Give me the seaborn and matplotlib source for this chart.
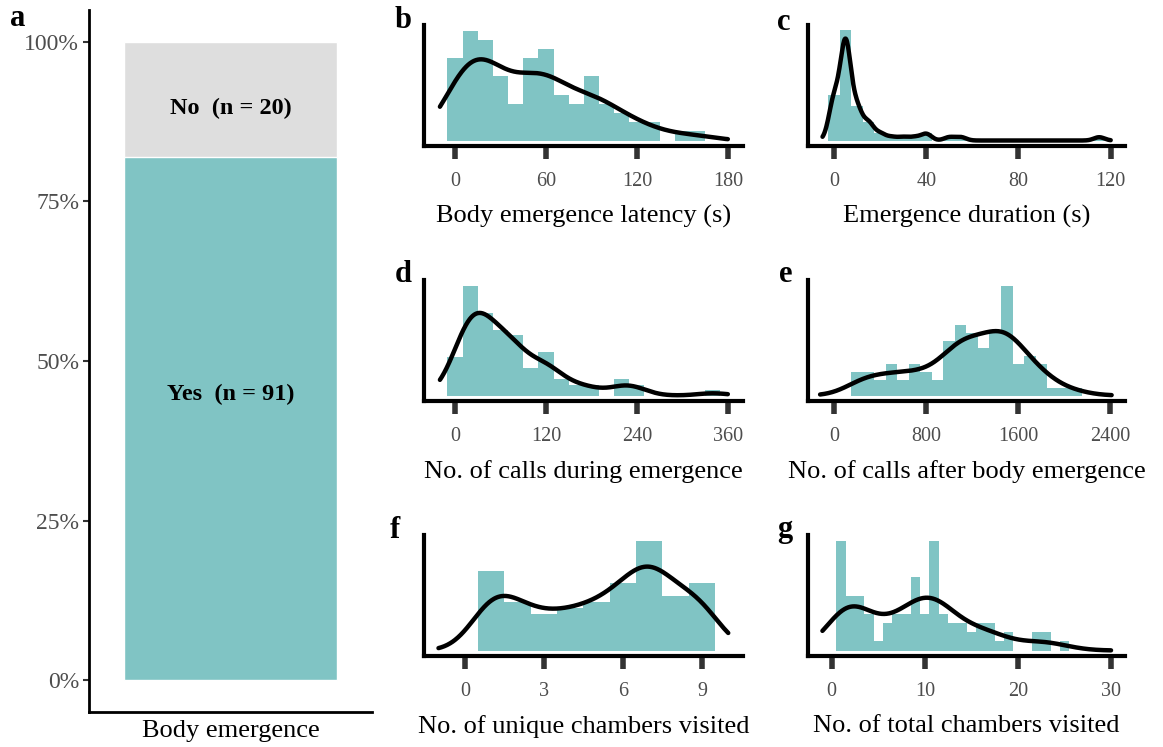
import numpy as np
import pandas as pd
import matplotlib
matplotlib.use("Agg")
import matplotlib.pyplot as plt
import seaborn as sns

# ---------------- data ----------------
# panel a: body emergence
emerge_cats = ["Yes", "No"]
emerge_n = [91, 20]

# panel b: body emergence latency (s), bin width 10
latency_centers = [0, 10, 20, 30, 40, 50, 60, 70, 80, 90, 100, 110, 120, 130, 140, 150, 160]
latency_counts = [9, 12, 11, 7, 4, 9, 10, 5, 4, 7, 4, 3, 2, 2, 0, 1, 1]

# panel c: emergence duration (s), bin width 5
duration_centers = [0, 5, 10, 15, 20, 25, 30, 35, 40, 45, 50, 55, 60, 65, 70, 75, 80, 85, 90, 95, 100, 105, 110, 115]
duration_counts = [12, 29, 9, 5, 2, 1, 1, 1, 2, 0, 1, 1, 0, 0, 0, 0, 0, 0, 0, 0, 0, 0, 0, 1]

# panel d: no. of calls during emergence, bin width 20
during_centers = [0, 20, 40, 60, 80, 100, 120, 140, 160, 180, 200, 220, 240, 260, 280, 300, 320, 340]
during_counts = [7, 20, 15, 12, 11, 5, 8, 3, 2, 2, 0, 3, 2, 0, 0, 0, 0, 1]

# panel e: no. of calls after body emergence, bin width 100
after_centers = [200, 300, 400, 500, 600, 700, 800, 900, 1000, 1100, 1200, 1300, 1400, 1500,
                 1600, 1700, 1800, 1900, 2000, 2100]
after_counts = [3, 3, 2, 4, 2, 4, 3, 2, 7, 9, 8, 6, 8, 14, 4, 5, 4, 1, 1, 1]

# panel f: no. of unique chambers visited, bin width 1
unique_centers = [1, 2, 3, 4, 5, 6, 7, 8, 9]
unique_counts = [13, 8, 6, 7, 8, 11, 18, 9, 11]

# panel g: no. of total chambers visited, bin width 1
total_centers = [1, 2, 3, 4, 5, 6, 7, 8, 9, 10, 11, 12, 13, 14, 15, 16, 17, 18, 19, 20, 21, 22, 23, 24, 25]
total_counts = [12, 6, 6, 4, 1, 3, 4, 4, 8, 4, 12, 4, 3, 3, 2, 3, 3, 1, 2, 0, 0, 2, 2, 0, 1]

# axis settings
panel_letters = ["b", "c", "d", "e", "f", "g"]
x_titles = ["Body emergence latency (s)", "Emergence duration (s)",
            "No. of calls during emergence", "No. of calls after body emergence",
            "No. of unique chambers visited", "No. of total chambers visited"]
x_ticks = [[0, 60, 120, 180], [0, 40, 80, 120], [0, 120, 240, 360],
           [0, 800, 1600, 2400], [0, 3, 6, 9], [0, 10, 20, 30]]
bin_widths = [10, 5, 20, 100, 1, 1]
kde_ranges = [(-10, 180), (-5, 120), (-20, 360), (-120, 2410), (-1, 10), (-1, 30)]
x_limits = [(-20.5, 190), (-11.3, 126.2), (-41, 380), (-225, 2526), (-1.55, 10.56), (-2.55, 31.5)]
kde_bandwidths = [15.0, 2.3, 20.0, 160.0, 0.85, 2.2]   # in data units

TEAL = "#80C4C4"
GRAY = "#DEDEDE"

# ---------------- style ----------------
sns.set_style("white")
plt.rcParams["font.family"] = ["Liberation Serif", "DejaVu Serif"]
plt.rcParams["text.color"] = "black"
plt.rcParams["axes.labelcolor"] = "black"

W, H = 1163, 747
fig = plt.figure(figsize=(W / 100, H / 100), dpi=100)


def px_axes(left, right, top, bottom):
    return fig.add_axes([left / W, 1 - bottom / H, (right - left) / W, (bottom - top) / H])


# ---------------- panel a ----------------
axa = px_axes(89, 372, 10, 712)
total = sum(emerge_n)
fracs = [n / total for n in emerge_n]
dfa = pd.DataFrame({"grp": ["Body emergence"], "all": [fracs[0] + fracs[1]], "yes": [fracs[0]]})
sns.barplot(data=dfa, x="grp", y="all", color=GRAY, width=0.9, saturation=1, ax=axa)
sns.barplot(data=dfa, x="grp", y="yes", color=TEAL, width=0.9, saturation=1, ax=axa)
axa.set_xlim(-0.6, 0.6)
axa.set_ylim(-0.05, 1.05)
axa.set_yticks([0, 0.25, 0.5, 0.75, 1.0])
axa.set_yticklabels(["0%", "25%", "50%", "75%", "100%"])
axa.set_xticks([])
axa.set_xlabel("Body emergence", fontsize=19, labelpad=6)
axa.set_ylabel("")
axa.tick_params(axis="y", length=4, width=1.5, color="#333333", labelcolor="#4D4D4D",
                labelsize=17, pad=3, left=True)
sns.despine(ax=axa)
for s in ["left", "bottom"]:
    axa.spines[s].set_linewidth(2)
    axa.spines[s].set_color("black")
axa.text(0, fracs[0] + fracs[1] * 0.42, f"No  (n = {emerge_n[1]})", ha="center", va="center",
         fontsize=17.5, fontweight="bold")
axa.text(0, fracs[0] * 0.545, f"Yes  (n = {emerge_n[0]})", ha="center", va="center",
         fontsize=17.5, fontweight="bold")
fig.text(10 / W, 1 - 18 / H, "a", fontsize=22, fontweight="bold", va="center", ha="left")

# ---------------- histogram panels ----------------
centers_list = [latency_centers, duration_centers, during_centers, after_centers, unique_centers, total_centers]
counts_list = [latency_counts, duration_counts, during_counts, after_counts, unique_counts, total_counts]
boxes = [(424, 743, 25, 146), (808, 1125, 25, 146),
         (424, 743, 280, 401), (808, 1125, 280, 401),
         (424, 743, 535, 656), (808, 1125, 535, 656)]
letter_pos = [(395, 20), (777, 22), (395, 275), (779, 275), (390, 530), (777, 530)]

for i in range(6):
    ax = px_axes(*boxes[i])
    obs = np.repeat(centers_list[i], counts_list[i]).astype(float)
    df = pd.DataFrame({"x": obs})
    bw = bin_widths[i]
    lo = min(centers_list[i]) - bw / 2
    hi = max(centers_list[i]) + bw / 2
    sns.histplot(data=df, x="x", binwidth=bw, binrange=(lo, hi), stat="density",
                 color=TEAL, alpha=1, edgecolor=TEAL, linewidth=0, ax=ax)
    sns.kdeplot(data=df, x="x", bw_method=kde_bandwidths[i] / obs.std(ddof=1), clip=kde_ranges[i],
                cut=30, gridsize=600, color="black", lw=3.2, ax=ax)
    ymax = max([p.get_height() for p in ax.patches] + [ax.lines[0].get_ydata().max()])
    ax.set_ylim(-0.05 * ymax, 1.05 * ymax)
    ax.set_xlim(*x_limits[i])
    ax.set_xticks(x_ticks[i])
    ax.set_yticks([])
    ax.set_ylabel("")
    ax.set_xlabel(x_titles[i], fontsize=19, labelpad=10)
    ax.tick_params(axis="x", length=9, width=4, color="#333333", labelcolor="#4D4D4D",
                   labelsize=14.5, pad=10, bottom=True)
    sns.despine(ax=ax)
    for s in ["left", "bottom"]:
        ax.spines[s].set_linewidth(3)
        ax.spines[s].set_color("black")
    fig.text(letter_pos[i][0] / W, 1 - letter_pos[i][1] / H, panel_letters[i], fontsize=22,
             fontweight="bold", va="center", ha="left")

fig.savefig("out.png", dpi=100)
